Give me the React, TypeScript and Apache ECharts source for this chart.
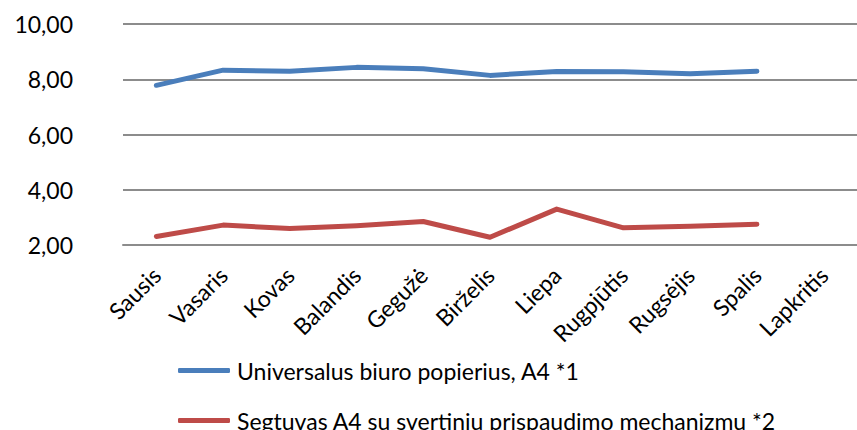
import React, { useEffect, useRef } from "react";
import * as echarts from "echarts";

const categories = ["Sausis", "Vasaris", "Kovas", "Balandis", "Gegužė", "Birželis", "Liepa", "Rugpjūtis", "Rugsėjis", "Spalis", "Lapkritis"];
const seriesNames = ["Universalus biuro popierius, A4 *1", "Segtuvas A4 su svertiniu prispaudimo mechanizmu *2"];
const paperValues = [7.78, 8.33, 8.29, 8.43, 8.38, 8.14, 8.28, 8.27, 8.2, 8.29, null];
const binderValues = [2.31, 2.72, 2.6, 2.7, 2.85, 2.28, 3.3, 2.62, 2.68, 2.75, null];
const yTicks = { min: 2, max: 10, interval: 2 };

const FONT = "Lato, 'Open Sans', sans-serif";

export default function App() {
  const ref = useRef<HTMLDivElement>(null);
  useEffect(() => {
    if (!ref.current) return;
    const chart = echarts.init(ref.current, undefined, { renderer: "svg" });
    chart.setOption({
      animation: false,
      backgroundColor: "#ffffff",
      grid: { left: 123, top: 24, width: 741, height: 221, containLabel: false },
      legend: {
        orient: "vertical",
        left: 178,
        top: 359,
        width: 650,
        height: 120,
        padding: 0,
        itemWidth: 52,
        itemHeight: 5,
        itemGap: 27,
        icon: "roundRect",
        textStyle: { fontFamily: FONT, fontSize: 23, lineHeight: 20, color: "#000", padding: [0, 0, 0, 2] },
        data: seriesNames,
      },
      xAxis: {
        type: "category",
        data: categories,
        boundaryGap: true,
        axisLine: { show: true, lineStyle: { color: "#8c8c8c", width: 2 } },
        axisTick: { show: false },
        axisLabel: {
          rotate: 45,
          interval: 0,
          margin: 26,
          fontFamily: FONT,
          fontSize: 23,
          color: "#000",
        },
      },
      yAxis: {
        type: "value",
        min: yTicks.min,
        max: yTicks.max,
        interval: yTicks.interval,
        axisLine: { show: false },
        axisTick: { show: false },
        splitLine: { lineStyle: { color: "#8c8c8c", width: 2 } },
        axisLabel: {
          margin: 50,
          fontFamily: FONT,
          fontSize: 23,
          color: "#000",
          formatter: (v: number) => v.toFixed(2).replace(".", ","),
        },
      },
      series: [
        {
          name: seriesNames[0],
          type: "line",
          data: paperValues,
          showSymbol: false,
          symbol: "none",
          lineStyle: { color: "#4a7ebb", width: 5, cap: "round", join: "round" },
          itemStyle: { color: "#4a7ebb" },
        },
        {
          name: seriesNames[1],
          type: "line",
          data: binderValues,
          showSymbol: false,
          symbol: "none",
          lineStyle: { color: "#be4b48", width: 5, cap: "round", join: "round" },
          itemStyle: { color: "#be4b48" },
        },
      ],
    });
    return () => chart.dispose();
  }, []);
  return <div ref={ref} style={{ width: 857, height: 430, position: "absolute", left: 0, top: 0 }} />;
}
